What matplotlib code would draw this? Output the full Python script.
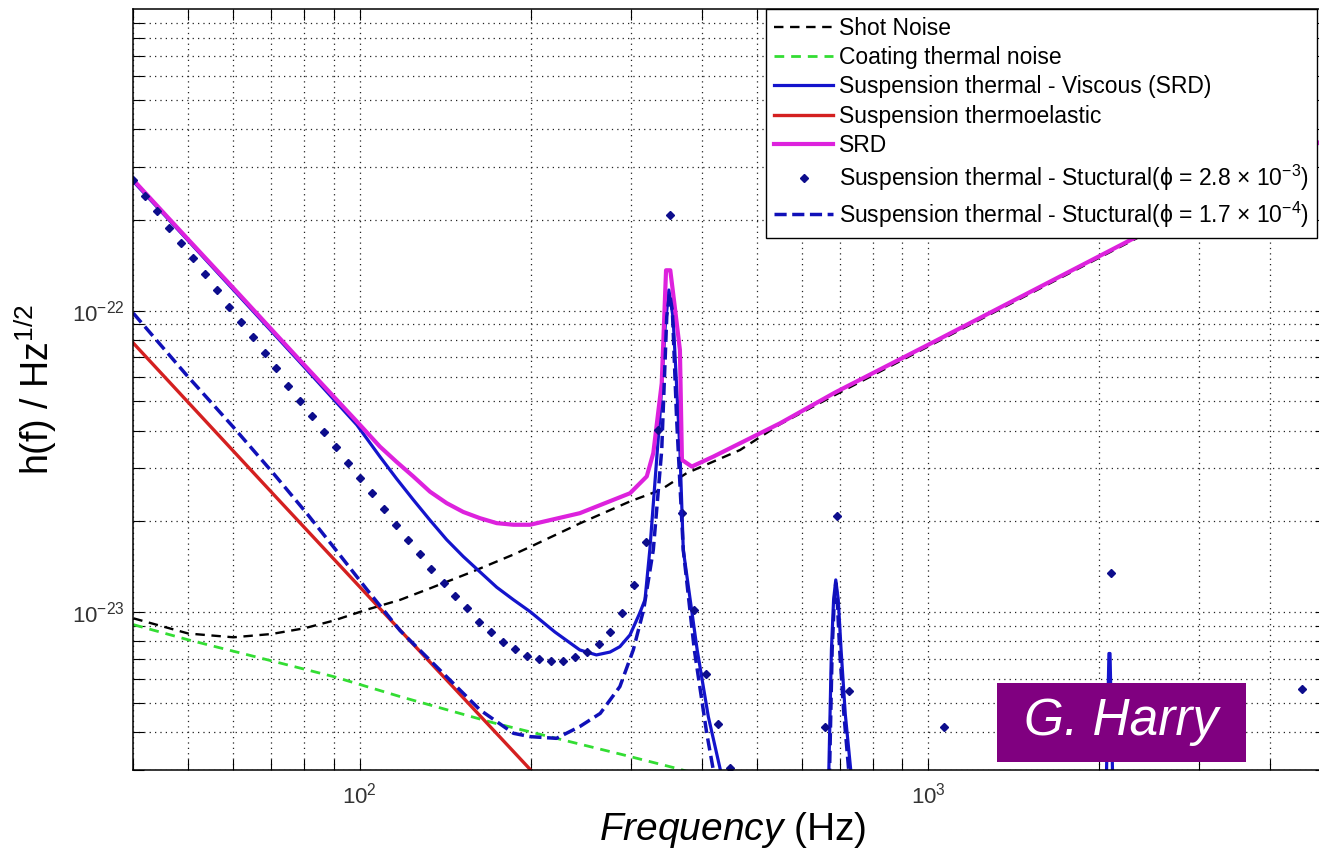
import matplotlib
matplotlib.use('Agg')
import matplotlib.pyplot as plt
from matplotlib.patches import Rectangle
from matplotlib.ticker import NullFormatter

plt.rcParams['font.family'] = ['Liberation Sans', 'DejaVu Sans']
plt.rcParams['mathtext.fontset'] = 'custom'
plt.rcParams['mathtext.rm'] = 'Liberation Sans'
plt.rcParams['mathtext.it'] = 'Liberation Sans:italic'

# values (Hz, strain / sqrt(Hz))
shot_f = [40, 50, 60, 70, 80, 90, 103, 118, 133, 156, 186, 200, 244, 299, 338, 376, 467, 549, 686, 1000, 2360, 5000]
shot_h = [9.55e-24, 8.5e-24, 8.26e-24, 8.47e-24, 8.85e-24, 9.38e-24, 1.02e-23, 1.10e-23, 1.20e-23, 1.35e-23,
          1.55e-23, 1.65e-23, 1.97e-23, 2.33e-23, 2.54e-23, 2.89e-23, 3.45e-23, 4.2e-23, 5.25e-23, 7.6e-23,
          1.76e-22, 3.66e-22]

coat_f = [40, 50, 69, 90, 118, 172, 287, 358, 400]
coat_h = [9.1e-24, 8.1e-24, 6.95e-24, 6.12e-24, 5.25e-24, 4.3e-24, 3.39e-24, 3.05e-24, 2.88e-24]

visc_f = [40, 49.6, 61.6, 78.5, 98.9, 108.6, 116.2, 124.3, 133, 142.3,
          152.2, 162.9, 174.3, 186.5, 199.5, 220.6, 244, 261, 275.8, 287,
          299, 311, 317.7, 324, 337.5, 345, 350, 356, 366, 371,
          392.5, 410.6, 430.5, 470, 600, 664, 669, 676, 682, 688,
          695, 703, 715, 731, 760, 1500, 2060, 2080, 2089, 2110,
          2400, 5000]
visc_h = [2.68e-22, 1.73e-22, 1.11e-22, 6.75e-23, 4.18e-23, 3.28e-23, 2.77e-23, 2.36e-23, 2.02e-23, 1.74e-23,
          1.53e-23, 1.36e-23, 1.21e-23, 1.10e-23, 1.005e-23, 8.6e-24, 7.5e-24, 7.22e-24, 7.38e-24, 7.69e-24,
          8.41e-24, 9.93e-24, 1.1e-23, 1.61e-23, 4.45e-23, 9.0e-23, 1.17e-22, 9.5e-23, 3.45e-23, 1.61e-23,
          7.5e-24, 4.51e-24, 3.04e-24, 1.5e-24, 8e-25, 2e-24, 3e-24, 7.5e-24, 1.1e-23, 1.28e-23,
          1.1e-23, 7.5e-24, 4.6e-24, 3.0e-24, 2e-24, 6e-25, 3e-24, 7.3e-24, 7.3e-24, 3e-24,
          6e-25, 3e-25]

thermo_f = [40, 70, 118, 200, 220]
thermo_h = [7.8e-23, 2.5e-23, 8.7e-24, 3.0e-24, 2.45e-24]

srd_f = [40, 49.6, 61.6, 78.5, 98.9, 108.6, 116.2, 124.3, 133, 142.3,
         152.2, 162.9, 174.3, 186.5, 199.5, 244, 299, 320, 328.6, 340,
         346, 352, 358, 366, 369, 384, 419, 549, 686, 1000,
         2360, 5000]
srd_h = [2.71e-22, 1.746e-22, 1.125e-22, 6.85e-23, 4.29e-23, 3.54e-23, 3.15e-23, 2.82e-23, 2.51e-23, 2.30e-23,
         2.15e-23, 2.05e-23, 1.974e-23, 1.95e-23, 1.95e-23, 2.13e-23, 2.48e-23, 2.82e-23, 3.37e-23, 5.74e-23,
         1.36e-22, 1.36e-22, 1.05e-22, 7.4e-23, 3.2e-23, 3.04e-23, 3.28e-23, 4.23e-23, 5.35e-23, 7.7e-23,
         1.78e-22, 3.7e-22]

struct1_f = [40.0, 41.98, 44.06, 46.24, 48.53, 50.93, 53.45, 56.10, 58.87, 61.79,
             64.84, 68.05, 71.42, 74.96, 78.66, 82.56, 86.64, 90.93, 95.43, 100.2,
             105.1, 110.3, 115.8, 121.5, 127.5, 133.8, 140.5, 147.4, 154.7, 162.4,
             170.4, 178.8, 187.7, 197.0, 206.7, 217.0, 227.7, 239.0, 250.8, 263.2,
             276.3, 289.9, 304.3, 319.3, 335.1, 351.7, 369.1, 387.4, 406.6, 426.7,
             447.8, 658.4, 690.9, 725.1, 1066, 2098, 4541]
struct1_h = [2.71e-22, 2.39e-22, 2.13e-22, 1.88e-22, 1.68e-22, 1.49e-22, 1.32e-22, 1.17e-22, 1.03e-22, 9.19e-23,
             8.16e-23, 7.26e-23, 6.44e-23, 5.64e-23, 5.03e-23, 4.48e-23, 3.97e-23, 3.54e-23, 3.13e-23, 2.78e-23,
             2.48e-23, 2.20e-23, 1.95e-23, 1.74e-23, 1.56e-23, 1.39e-23, 1.25e-23, 1.13e-23, 1.03e-23, 9.31e-24,
             8.63e-24, 7.99e-24, 7.54e-24, 7.16e-24, 6.98e-24, 6.89e-24, 6.89e-24, 7.09e-24, 7.40e-24, 7.83e-24,
             8.63e-24, 9.97e-24, 1.23e-23, 1.71e-23, 4.02e-23, 2.08e-22, 2.13e-23, 1.02e-23, 6.23e-24, 4.27e-24,
             3.04e-24, 4.18e-24, 2.09e-23, 5.5e-24, 4.16e-24, 1.35e-23, 5.56e-24]

struct2_f = [40, 49.6, 59.9, 70.5, 80.7, 89.9, 103, 117.8, 140, 163,
             186.5, 199.5, 222, 244, 265, 287, 303, 316, 328.6, 340,
             347, 351, 355, 361, 371, 388, 408, 419, 440, 600,
             664, 671, 678, 684, 688, 692, 699, 711, 725, 740, 900]
struct2_h = [9.8e-23, 6.12e-23, 4.12e-23, 2.89e-23, 2.13e-23, 1.65e-23, 1.19e-23, 8.7e-24, 6.3e-24, 4.74e-24,
             3.97e-24, 3.87e-24, 3.82e-24, 4.18e-24, 4.62e-24, 5.67e-24, 7.5e-24, 1.02e-23, 1.61e-23, 3.45e-23,
             9.55e-23, 1.14e-22, 1.0e-22, 4.45e-23, 1.61e-23, 7.5e-24, 3.97e-24, 3.0e-24, 2.0e-24, 7e-25,
             2e-24, 3e-24, 7.5e-24, 1.1e-23, 1.25e-23, 1.1e-23, 7.5e-24, 4.6e-24, 3.0e-24, 2e-24, 5e-25]

W, H = 1319, 850
fig = plt.figure(figsize=(W / 100, H / 100), dpi=100)
ax = fig.add_axes([133.3 / W, 80 / H, (1325.5 - 133.3) / W, 761 / H])
ax.set_xscale('log')
ax.set_yscale('log')

ax.plot(shot_f, shot_h, color='black', lw=1.7, dashes=(4, 2.8), label='Shot Noise')
ax.plot(coat_f, coat_h, color='#33dd33', lw=2.0, dashes=(3.5, 2.5), label='Coating thermal noise')
ax.plot(visc_f, visc_h, color='#1414cc', lw=2.3, label='Suspension thermal - Viscous (SRD)')
ax.plot(thermo_f, thermo_h, color='#d42020', lw=2.4, label='Suspension thermoelastic')
ax.plot(srd_f, srd_h, color='#dd22dd', lw=3.0, label='SRD')
ax.plot(struct1_f, struct1_h, ls='none', marker='D', ms=4, color='#0d0d8c',
        label=r'Suspension thermal - Stuctural($\mathrm{\phi}$ = 2.8 $\times$ 10$^{-3}$)')
ax.plot(struct2_f, struct2_h, color='#1010b8', lw=2.5, dashes=(3.5, 1.6),
        label=r'Suspension thermal - Stuctural($\mathrm{\phi}$ = 1.7 $\times$ 10$^{-4}$)')

ax.set_xlim(40, 5000)
ax.set_ylim(3e-24, 9.99e-22)
ax.set_xticks([100, 1000])
ax.set_yticks([1e-23, 1e-22])
ax.set_axisbelow(True)
ax.grid(True, which='both', linestyle=(0, (1, 3.3)), linewidth=0.9, color='#222222')
ax.xaxis.set_minor_formatter(NullFormatter())
ax.yaxis.set_minor_formatter(NullFormatter())
ax.tick_params(which='both', direction='in', top=True, right=True, length=8, width=0.8,
               labelsize=16, labelcolor='#333333')
ax.tick_params(axis='x', pad=9)
ax.tick_params(axis='y', pad=6)
for s in ax.spines.values():
    s.set_linewidth(1.1)

leg = ax.legend(loc='upper right', bbox_to_anchor=(1317 / W, 1 - 9 / H), bbox_transform=fig.transFigure,
                fontsize=16.5, fancybox=False, edgecolor='black', framealpha=1, borderaxespad=0,
                handlelength=2.6, handletextpad=0.25, labelspacing=0.27, borderpad=0.35, numpoints=1)
leg.get_frame().set_linewidth(1.0)

fig.text(36 / W, 1 - 390 / H, r'h(f) / Hz$^{1/2}$', fontsize=27, rotation=90, ha='center', va='center')
fig.text(733 / W, 1 - 830 / H, r'$\it{Frequency}$ (Hz)', fontsize=28, ha='center', va='center')

fig.add_artist(Rectangle((997 / W, 1 - 762 / H), 249 / W, 79 / H, transform=fig.transFigure,
                         facecolor='#800080', edgecolor='none', zorder=10))
fig.text(1121 / W, 1 - 722 / H, 'G. Harry', color='white', fontsize=37, style='italic',
         ha='center', va='center', zorder=11)

fig.savefig('out.png', dpi=100)
